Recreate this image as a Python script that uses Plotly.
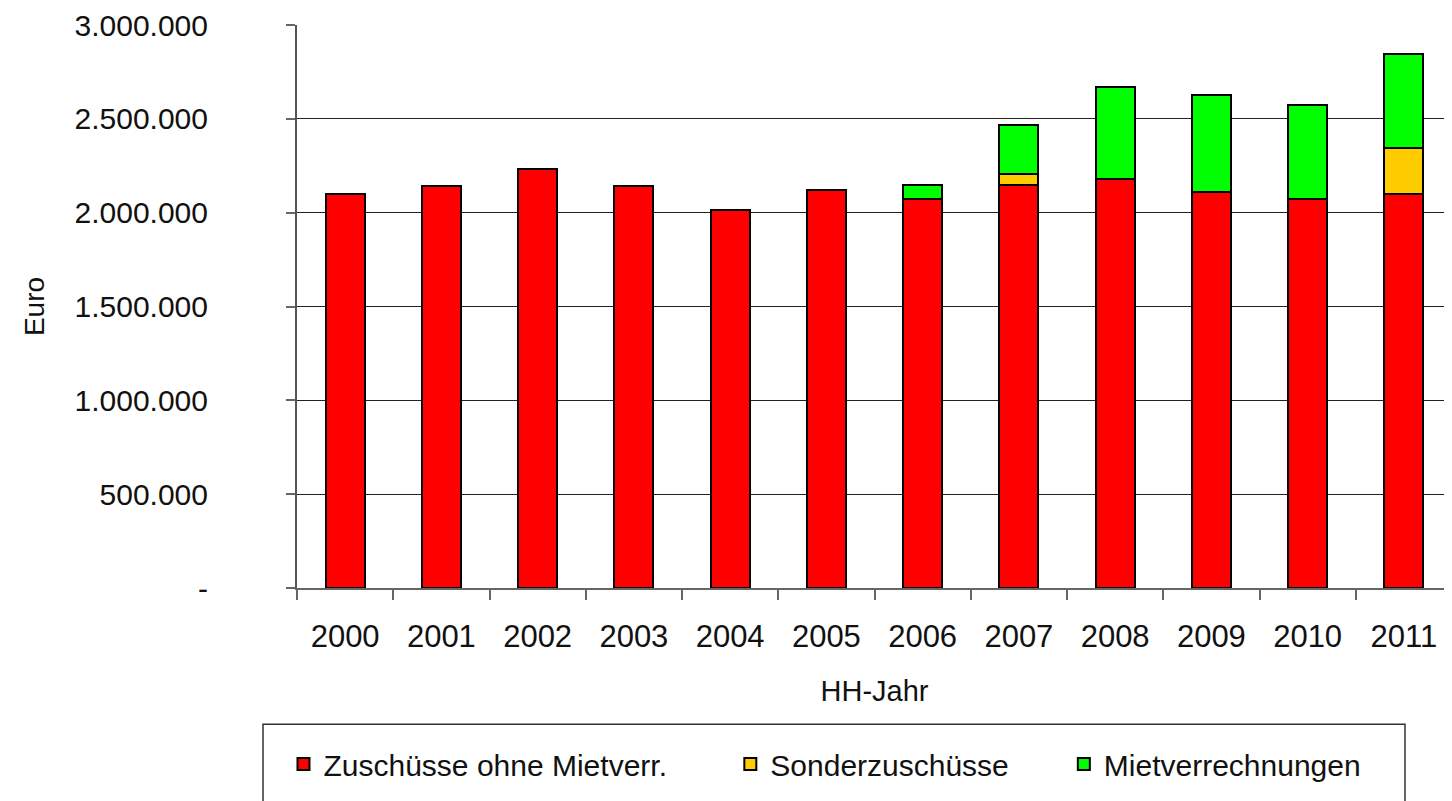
import plotly.graph_objects as go

years = ["2000", "2001", "2002", "2003", "2004", "2005",
         "2006", "2007", "2008", "2009", "2010", "2011"]
zuschuesse = [2100000, 2143000, 2235000, 2143000, 2012000, 2120000,
              2071000, 2150000, 2178000, 2108000, 2074000, 2099000]
sonder = [None, None, None, None, None, None,
          None, 55000, None, None, None, 247000]
miete = [None, None, None, None, None, None,
         75000, 260000, 489000, 518000, 502000, 502000]

y_tickvals = [0, 500000, 1000000, 1500000, 2000000, 2500000, 3000000]
y_ticktext = ["-", "500.000", "1.000.000", "1.500.000", "2.000.000", "2.500.000", "3.000.000"]

series_names = ["Zuschüsse ohne Mietverr.", "Sonderzuschüsse", "Mietverrechnungen"]
series_colors = ["#FF0000", "#FFCC00", "#00FF00"]
name_padding = ["\u00a0" * 7, "\u00a0" * 6, ""]

FONT = "Liberation Sans, Arial, sans-serif"

L, T, PW, PH = 289, 14, 1155, 566
W, H = L + PW, 793

fig = go.Figure()
for name, vals, col, pad in zip(series_names, [zuschuesse, sonder, miete], series_colors, name_padding):
    fig.add_trace(go.Bar(
        x=years, y=vals, name=name + pad,
        marker=dict(color=col, line=dict(color="#000000", width=2)),
    ))

fig.update_layout(
    barmode="stack",
    bargap=0.595,
    width=W, height=H,
    margin=dict(l=L, r=0, t=T, b=H - T - PH),
    paper_bgcolor="white", plot_bgcolor="white",
    font=dict(family=FONT, color="#111111", size=28),
    showlegend=True,
    legend=dict(
        orientation="h",
        x=-0.0117, xanchor="left",
        y=(588 - 765) / 566, yanchor="middle",
        font=dict(family=FONT, size=30, color="#111111"),
        bgcolor="rgba(0,0,0,0)",
        borderwidth=0,
        traceorder="normal",
    ),
    shapes=[dict(
        type="rect", xref="paper", yref="paper",
        x0=(263 - 297) / PW, x1=(1405 - 297) / PW,
        y0=(588 - 725) / PH, y1=(588 - 830) / PH,
        line=dict(color="#333333", width=1.5), fillcolor="rgba(0,0,0,0)",
        layer="above",
    )],
)

fig.update_xaxes(
    type="category",
    showline=True, linecolor="#666666", linewidth=2,
    ticks="outside", tickson="boundaries", ticklen=10, tickwidth=1.5, tickcolor="#666666",
    tickfont=dict(family=FONT, size=31, color="#111111"),
    ticklabelstandoff=20,
    title=dict(text="HH-Jahr", font=dict(family=FONT, size=29, color="#111111"), standoff=27),
    showgrid=False,
)
fig.update_yaxes(
    range=[0, 3000000],
    tickvals=y_tickvals, ticktext=y_ticktext,
    showline=True, linecolor="#555555", linewidth=2,
    ticks="outside", ticklen=9, tickwidth=1.5, tickcolor="#666666",
    tickfont=dict(family=FONT, size=30, color="#111111"),
    ticklabelstandoff=72,
    ticklabeloverflow="allow",
    showgrid=True, gridcolor="#222222", gridwidth=1,
    zeroline=False,
    title=dict(text="Euro", font=dict(family=FONT, size=28, color="#111111"), standoff=22),
)

fig.write_html("out.html")
